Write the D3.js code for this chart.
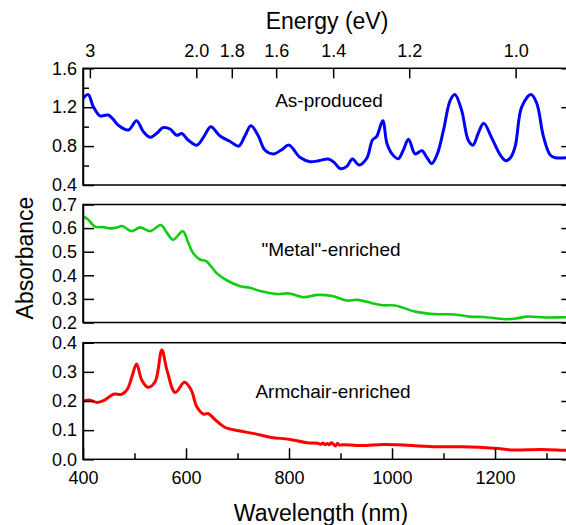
<!DOCTYPE html>
<html>
    <head>
        <meta charset="utf-8">
        <title>Absorbance spectra</title>
        <style>
            body { margin: 0; background: #fff; }
            svg text { font-family: "Liberation Sans", Arial, sans-serif; fill: #000; }
            .axis path, .axis line { stroke: #000; stroke-width: 1.5; }
            .frame { fill: none; stroke: #000; stroke-width: 1.5; }
        </style>
    </head>
    <body>
        <svg id="chart" width="566" height="525"></svg>

        <script src="https://d3js.org/d3.v7.min.js"></script>
        <script>
            // wavelength (nm) / absorbance
            var wlBlue = [400, 410, 420, 433, 441, 449, 458, 468, 488, 504, 517, 531, 545, 555, 569, 582, 592, 604, 621, 635, 648, 666, 685, 702, 714, 726, 740, 753, 770, 785, 800, 821, 841, 858, 876, 888, 899, 912, 923, 936, 951, 962, 970, 982, 990, 1000, 1012, 1022, 1032, 1045, 1058, 1068, 1077, 1088, 1100, 1113, 1122, 1135, 1148, 1157, 1168, 1178, 1194, 1210, 1221, 1230, 1239, 1252, 1270, 1281, 1294, 1307, 1317, 1338, 1350];
            var absBlue = [1.29, 1.33, 1.205, 1.11, 1.115, 1.12, 1.08, 1.017, 0.966, 1.061, 0.95, 0.891, 0.94, 0.99, 0.976, 0.911, 0.93, 0.863, 0.809, 0.90, 1.00, 0.904, 0.85, 0.80, 0.90, 1.01, 0.91, 0.76, 0.72, 0.76, 0.81, 0.685, 0.64, 0.65, 0.667, 0.63, 0.57, 0.59, 0.667, 0.606, 0.675, 0.863, 0.897, 1.061, 0.83, 0.72, 0.67, 0.76, 0.87, 0.72, 0.753, 0.68, 0.62, 0.72, 0.966, 1.27, 1.33, 1.17, 0.86, 0.81, 0.94, 1.035, 0.88, 0.71, 0.65, 0.68, 0.794, 1.205, 1.33, 1.24, 0.897, 0.71, 0.68, 0.68, 0.68];

            var wlGreen = [400, 411, 423, 440, 452, 465, 476, 494, 511, 531, 551, 563, 575, 594, 604, 614, 627, 639, 649, 660, 679, 705, 724, 744, 775, 800, 828, 856, 884, 912, 933, 961, 982, 1006, 1045, 1080, 1122, 1150, 1178, 1220, 1241, 1262, 1297, 1338, 1350];
            var absGreen = [0.651, 0.634, 0.606, 0.604, 0.599, 0.602, 0.609, 0.587, 0.603, 0.587, 0.613, 0.58, 0.551, 0.587, 0.54, 0.493, 0.467, 0.46, 0.437, 0.408, 0.379, 0.354, 0.347, 0.333, 0.321, 0.323, 0.307, 0.317, 0.312, 0.293, 0.296, 0.282, 0.273, 0.272, 0.246, 0.236, 0.234, 0.225, 0.223, 0.214, 0.217, 0.225, 0.221, 0.222, 0.222];

            var wlRed = [400, 414, 427, 442, 459, 475, 486, 495, 504, 514, 526, 540, 553, 563, 579, 597, 610, 621, 634, 643, 656, 675, 702, 730, 765, 800, 835, 855, 862, 866, 870, 874, 878, 882, 886, 890, 894, 898, 905, 940, 982, 1010, 1080, 1136, 1199, 1234, 1290, 1338, 1350];
            var absRed = [0.200, 0.203, 0.195, 0.203, 0.223, 0.223, 0.240, 0.283, 0.327, 0.272, 0.247, 0.266, 0.375, 0.306, 0.229, 0.264, 0.238, 0.180, 0.155, 0.157, 0.137, 0.110, 0.098, 0.089, 0.075, 0.069, 0.057, 0.055, 0.052, 0.056, 0.050, 0.054, 0.050, 0.057, 0.052, 0.046, 0.054, 0.049, 0.050, 0.047, 0.051, 0.050, 0.043, 0.043, 0.038, 0.032, 0.034, 0.031, 0.031];

            var panelNames = ['As-produced', '"Metal"-enriched', 'Armchair-enriched'];
            var energyTicks = [3, 2.0, 1.8, 1.6, 1.4, 1.2, 1.0];
            var energyLabels = ['3', '2.0', '1.8', '1.6', '1.4', '1.2', '1.0'];
            var wlTicks = [400, 600, 800, 1000, 1200];
            var wlMinor = [500, 700, 900, 1100, 1300];

            var svg = d3.select('#chart');
            var x = d3.scaleLinear().domain([400, 1350]).range([83, 572.3]);

            var panels = [
                { wl: wlBlue, ab: absBlue, color: '#0000ff', width: 3, dom: [0.4, 1.6], top: 68.3, bot: 185,
                  major: [0.4, 0.8, 1.2, 1.6], minor: [0.6, 1.0, 1.4], fmt: '.1f', lx: 329, ly: 107 },
                { wl: wlGreen, ab: absGreen, color: '#11cc11', width: 2.6, dom: [0.2, 0.7], top: 204.5, bot: 322.5,
                  major: [0.2, 0.3, 0.4, 0.5, 0.6, 0.7], minor: [], fmt: '.1f', lx: 331, ly: 256 },
                { wl: wlRed, ab: absRed, color: '#ff0000', width: 3, dom: [0, 0.4], top: 342.7, bot: 459.3,
                  major: [0, 0.1, 0.2, 0.3, 0.4], minor: [], fmt: '.1f', lx: 333, ly: 398 }
            ];

            panels.forEach(function(p, i) {
                var y = d3.scaleLinear().domain(p.dom).range([p.bot, p.top]);
                var g = svg.append('g');

                g.append('clipPath').attr('id', 'clip' + i)
                    .append('rect')
                    .attr('x', x.range()[0]).attr('y', p.top)
                    .attr('width', x.range()[1] - x.range()[0]).attr('height', p.bot - p.top);

                var pts = p.wl.map(function(w, k) { return [w, p.ab[k]]; });
                var line = d3.line()
                    .x(function(d) { return x(d[0]); })
                    .y(function(d) { return y(d[1]); })
                    .curve(d3.curveCatmullRom.alpha(0.5));

                g.append('path')
                    .datum(pts)
                    .attr('clip-path', 'url(#clip' + i + ')')
                    .attr('fill', 'none')
                    .attr('stroke', p.color)
                    .attr('stroke-width', p.width)
                    .attr('stroke-linejoin', 'round')
                    .attr('d', line);

                // left axis, ticks inward
                g.append('g').attr('class', 'axis')
                    .attr('transform', 'translate(' + x.range()[0] + ',0)')
                    .call(d3.axisLeft(y).tickValues(p.major).tickFormat(d3.format(p.fmt))
                        .tickSize(-11).tickPadding(6).tickSizeOuter(0))
                    .call(function(a) {
                        a.selectAll('text').style('font-size', '18px');
                    });
                if (p.minor.length) {
                    g.append('g').attr('class', 'axis')
                        .attr('transform', 'translate(' + x.range()[0] + ',0)')
                        .call(d3.axisLeft(y).tickValues(p.minor).tickFormat('').tickSize(-6).tickSizeOuter(0))
                        .call(function(a) { a.select('.domain').remove(); });
                }
                // right axis
                g.append('g').attr('class', 'axis')
                    .attr('transform', 'translate(' + x.range()[1] + ',0)')
                    .call(d3.axisRight(y).tickValues(p.major).tickFormat('').tickSize(-11).tickSizeOuter(0));

                g.append('rect').attr('class', 'frame')
                    .attr('x', x.range()[0]).attr('y', p.top)
                    .attr('width', x.range()[1] - x.range()[0]).attr('height', p.bot - p.top);

                g.append('text')
                    .attr('x', p.lx).attr('y', p.ly)
                    .attr('text-anchor', 'middle')
                    .style('font-size', '19px')
                    .text(panelNames[i]);
            });

            // top energy axis
            svg.append('g').attr('class', 'axis')
                .attr('transform', 'translate(0,' + panels[0].top + ')')
                .call(d3.axisTop(x)
                    .tickValues(energyTicks.map(function(e) { return 1240 / e; }))
                    .tickFormat(function(d, i) { return energyLabels[i]; })
                    .tickSize(-10).tickPadding(11).tickSizeOuter(0))
                .call(function(a) {
                    a.select('.domain').remove();
                    a.selectAll('text').style('font-size', '18px');
                });

            // bottom wavelength axis
            var bot = panels[2].bot;
            svg.append('g').attr('class', 'axis')
                .attr('transform', 'translate(0,' + bot + ')')
                .call(d3.axisBottom(x).tickValues(wlTicks).tickFormat(d3.format('d'))
                    .tickSize(-11).tickPadding(12).tickSizeOuter(0))
                .call(function(a) {
                    a.select('.domain').remove();
                    a.selectAll('text').style('font-size', '18px');
                });
            svg.append('g').attr('class', 'axis')
                .attr('transform', 'translate(0,' + bot + ')')
                .call(d3.axisBottom(x).tickValues(wlMinor).tickFormat('').tickSize(-6).tickSizeOuter(0))
                .call(function(a) { a.select('.domain').remove(); });

            svg.append('text')
                .attr('x', 327).attr('y', 29)
                .attr('text-anchor', 'middle')
                .style('font-size', '23px')
                .text('Energy (eV)');

            svg.append('text')
                .attr('x', 321).attr('y', 521)
                .attr('text-anchor', 'middle')
                .style('font-size', '23px')
                .text('Wavelength (nm)');

            svg.append('text')
                .attr('transform', 'translate(33,258) rotate(-90)')
                .attr('text-anchor', 'middle')
                .style('font-size', '23px')
                .text('Absorbance');
        </script>
    </body>
</html>
